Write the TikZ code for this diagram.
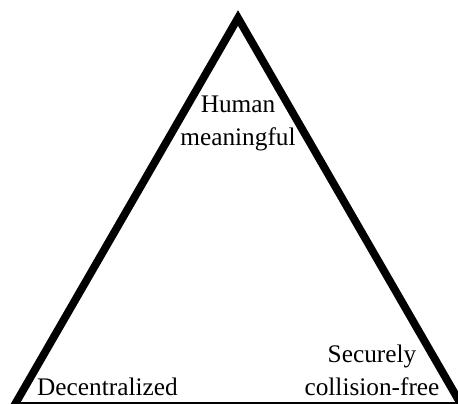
\documentclass[tikz,border=0pt]{standalone}
\usepackage{fontspec}
\setmainfont{Liberation Serif}
\begin{document}
\begin{tikzpicture}[x=1pt,y=-1pt,
  lbl/.style={font=\fontsize{25.3}{33}\selectfont, inner sep=0pt, align=center},
  edge/.style={line width=7.8pt, line join=miter}]
\useasboundingbox (0,0) rectangle (458,404);
\clip (0,0) rectangle (458,404);
\coordinate (top) at (238,18);
\coordinate (bl) at (14,406);
\coordinate (br) at (462,406);
\draw[edge] (top) -- (bl) -- (br) -- cycle;
\node[lbl, anchor=base] (hm) at (238,145.5) {Human\\meaningful};
\node[lbl, anchor=base west] (dc) at (37,395) {Decentralized};
\node[lbl, anchor=base] (sc) at (372,395) {Securely\\collision-free};
\end{tikzpicture}
\end{document}
